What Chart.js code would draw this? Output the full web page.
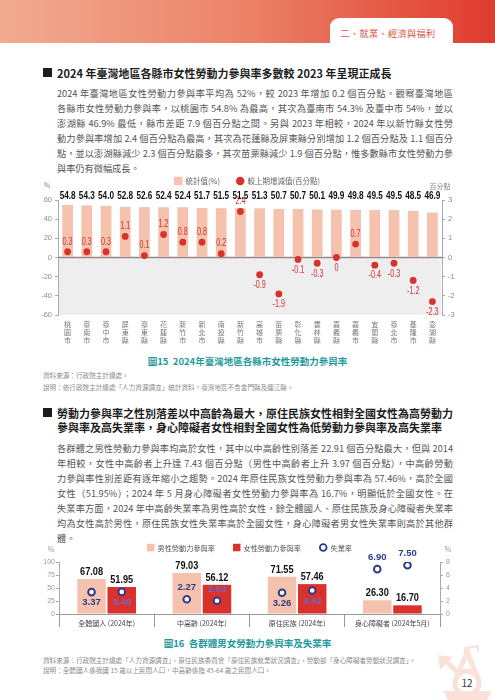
<!DOCTYPE html>
<html lang="zh-Hant">
<head>
<meta charset="utf-8">
<script src="https://cdn.jsdelivr.net/npm/chart.js@4.4.1/dist/chart.umd.min.js"></script>
<style>
  html, body { margin: 0; padding: 0; background: #fff; }
  body { width: 495px; height: 700px; position: relative; overflow: hidden;
         font-family: "Noto Sans CJK TC", "Noto Sans", sans-serif; }
  .abs { position: absolute; }
  .band { left: 0; top: 0; width: 495px; height: 43px;
          background: linear-gradient(90deg, #f1ab91 0%, #eb8268 50%, #df3b2e 100%); }
  .tab { left: 330px; top: 18px; width: 123px; height: 27px; background: #fff; border-radius: 9px 9px 0 0; }
  .tabtxt { left: 330px; top: 27px; width: 116px; text-align: center; font-size: 9.2px; line-height: 13px; color: #d9533f; letter-spacing: 0.3px; }
  .sq { width: 9px; height: 9px; background: #1d1d1d; }
  .h { left: 57px; font-size: 11px; font-weight: 700; line-height: 14px; color: #1d1d1d; white-space: nowrap; }
  .para { left: 57px; width: 396px; font-size: 9.2px; line-height: 15px; color: #555; }
  .para div { text-align: justify; text-align-last: justify; }
  .para div.last { text-align: left; text-align-last: left; }
  .cap { left: 0; width: 495px; text-align: center; font-size: 9.5px; font-weight: 700; color: #1f9a9c; line-height: 12px; }
  .src { left: 43px; font-size: 6.6px; color: #8a8a8a; white-space: nowrap; }
  .page { left: 455px; top: 676px; width: 24px; text-align: center; font-size: 10px; color: #333; line-height: 14px; }
</style>
</head>
<body>
<div class="abs band"></div>
<div class="abs tab"></div>
<div class="abs tabtxt">二、就業、經濟與福利</div>

<div class="abs sq" style="left:43px; top:68px;"></div>
<div class="abs h" style="top:66px;">2024 年臺灣地區各縣市女性勞動力參與率多數較 2023 年呈現正成長</div>

<div class="abs para" style="top:86px;">
  <div>2024 年臺灣地區女性勞動力參與率平均為 52%，較 2023 年增加 0.2 個百分點。觀察臺灣地區</div>
  <div>各縣市女性勞動力參與率，以桃園市 54.8% 為最高，其次為臺南市 54.3% 及臺中市 54%，並以</div>
  <div>澎湖縣 46.9% 最低，縣市差距 7.9 個百分點之間。另與 2023 年相較，2024 年以新竹縣女性勞</div>
  <div>動力參與率增加 2.4 個百分點為最高，其次為花蓮縣及屏東縣分別增加 1.2 個百分點及 1.1 個百分</div>
  <div>點，並以澎湖縣減少 2.3 個百分點最多，其次苗栗縣減少 1.9 個百分點，惟多數縣市女性勞動力參</div>
  <div class="last">與率仍有微幅成長。</div>
</div>

<div class="abs" style="left:30px; top:172px; width:440px; height:176px;">
  <canvas id="cityChart"></canvas>
</div>

<div class="abs cap" style="top:355px;">圖15&nbsp;&nbsp;2024年臺灣地區各縣市女性勞動力參與率</div>
<div class="abs src" style="top:369px; line-height:12.3px;">資料來源：行政院主計總處。<br>說明：依行政院主計總處「人力資源調查」統計資料，臺灣地區不含金門縣及連江縣。</div>

<div class="abs sq" style="left:43px; top:408px;"></div>
<div class="abs h" style="top:406px;">勞動力參與率之性別落差以中高齡為最大，原住民族女性相對全國女性為高勞動力<br>參與率及高失業率，身心障礙者女性相對全國女性為低勞動力參與率及高失業率</div>

<div class="abs para" style="top:441px;">
  <div>各群體之男性勞動力參與率均高於女性，其中以中高齡性別落差 22.91 個百分點最大，但與 2014</div>
  <div>年相較，女性中高齡者上升達 7.43 個百分點（男性中高齡者上升 3.97 個百分點），中高齡勞動</div>
  <div>力參與率性別差距有逐年縮小之趨勢。2024 年原住民族女性勞動力參與率為 57.46%，高於全國</div>
  <div>女性（51.95%）；2024 年 5 月身心障礙者女性勞動力參與率為 16.7%，明顯低於全國女性。在</div>
  <div>失業率方面，2024 年中高齡失業率為男性高於女性，餘全體國人、原住民族及身心障礙者失業率</div>
  <div>均為女性高於男性，原住民族女性失業率高於全國女性，身心障礙者男女性失業率則高於其他群</div>
  <div class="last">體。</div>
</div>

<div class="abs" style="left:30px; top:540px; width:440px; height:95px;">
  <canvas id="groupChart"></canvas>
</div>

<div class="abs cap" style="top:637px;">圖16&nbsp;&nbsp;各群體男女勞動力參與率及失業率</div>
<div class="abs src" style="top:655px; line-height:10px;">資料來源：行政院主計總處「人力資源調查」、原住民族委員會「原住民族就業狀況調查」、勞動部「身心障礙者勞動狀況調查」。<br>說明：全體國人係我國 15 歲以上民間人口，中高齡係指 45-64 歲之民間人口。</div>

<svg class="abs" style="left:430px; top:640px;" width="65" height="60" viewBox="0 0 65 60">
  <g fill="none" stroke="#fbe2d8" stroke-width="5">
    <line x1="29" y1="34" x2="16" y2="21"/>
    <circle cx="37" cy="43" r="12"/>
    <polyline points="27,36 37,12 47,36"/>
  </g>
  <polygon points="8,15 23,17 10,30" fill="#fbe2d8"/>
  <polyline points="37,8 48,6 48,11" fill="none" stroke="#fbe2d8" stroke-width="2"/>
  <circle cx="37" cy="10" r="2.5" fill="none" stroke="#fbe2d8" stroke-width="1.5"/>
  <polygon points="13,51 62,51 57,60 18,60" fill="#fbe2d8"/>
</svg>
<div class="abs page">12</div>

<script>
// 圖15 各縣市
const cityNames = ['桃園市', '臺南市', '臺中市', '屏東縣', '臺東縣', '花蓮縣', '新竹市', '新北市', '南投縣', '新竹縣',
  '高雄市', '苗栗縣', '彰化縣', '雲林縣', '嘉義縣', '嘉義市', '宜蘭縣', '臺北市', '基隆市', '澎湖縣'];
const femaleRate2024 = [54.8, 54.3, 54.0, 52.8, 52.6, 52.4, 52.4, 51.7, 51.5, 51.5,
  51.3, 50.7, 50.7, 50.1, 49.9, 49.8, 49.5, 49.5, 48.5, 46.9];
const changeFrom2023 = [0.3, 0.3, 0.3, 1.1, 0.1, 1.2, 0.8, 0.8, 0.2, 2.4,
  -0.9, -1.9, -0.1, -0.3, 0, 0.7, -0.4, -0.3, -1.2, -2.3];

// 圖16 各群體
const groupNames = ['全體國人 (2024年)', '中高齡 (2024年)', '原住民族 (2024年)', '身心障礙者 (2024年5月)'];
const maleParticipation = [67.08, 79.03, 71.55, 26.30];
const femaleParticipation = [51.95, 56.12, 57.46, 16.70];
const maleUnemployment = [3.37, 2.27, 3.26, 6.90];
const femaleUnemployment = [3.40, 2.03, 3.62, 7.50];
const unemploymentLabelSide = ['below', 'above', 'below', 'above'];

const PEACH = '#f4c2ad';
const RED = '#d9312b';
const NAVY = '#2e3a8c';
const SANS = '"Liberation Sans", Arial, sans-serif';
const CJK = '"Noto Sans CJK TC", sans-serif';

// 細い数字（元図は長体の書体なので横方向に縮める）
function narrowText(ctx, text, x, y, sx) {
  ctx.save();
  ctx.translate(x, y);
  ctx.scale(sx, 1);
  ctx.fillText(text, 0, 0);
  ctx.restore();
}

// 自前の凡例（位置を細かく合わせるため）
function drawLegend(ctx, items, cx, cy, fontSize, gap, color) {
  ctx.save();
  ctx.font = fontSize + 'px ' + CJK;
  ctx.textBaseline = 'middle';
  ctx.textAlign = 'left';
  const widths = items.map(it => it.size + 3 + ctx.measureText(it.text).width);
  const total = widths.reduce((a, b) => a + b, 0) + gap * (items.length - 1);
  let x = cx - total / 2;
  items.forEach((it, i) => {
    if (it.shape === 'circle') {
      ctx.beginPath();
      ctx.arc(x + it.size / 2, cy, it.size / 2 - (it.stroke ? it.stroke / 2 : 0), 0, Math.PI * 2);
      if (it.stroke) {
        ctx.lineWidth = it.stroke;
        ctx.strokeStyle = it.color;
        ctx.fillStyle = '#fff';
        ctx.fill();
        ctx.stroke();
      } else {
        ctx.fillStyle = it.color;
        ctx.fill();
      }
    } else {
      ctx.fillStyle = it.color;
      ctx.fillRect(x, cy - it.size / 2, it.size, it.size);
    }
    ctx.fillStyle = color;
    ctx.fillText(it.text, x + it.size + 3, cy + 0.5);
    x += widths[i] + gap;
  });
  ctx.restore();
}

const cityMarks = {
  id: 'cityMarks',
  beforeDraw(chart) {
    const { ctx, chartArea: a, scales } = chart;
    const y0 = scales.y.getPixelForValue(0);
    ctx.save();
    ctx.fillStyle = '#eeeeee';
    ctx.fillRect(a.left + 1, y0, a.right - a.left - 2, a.bottom - y0);
    ctx.restore();
  },
  beforeDatasetsDraw(chart) {
    const { ctx, chartArea: a, scales } = chart;
    const y0 = scales.y.getPixelForValue(0);
    ctx.save();
    ctx.strokeStyle = '#8c8c8c';
    ctx.lineWidth = 1.5;
    ctx.beginPath();
    ctx.moveTo(a.left, y0);
    ctx.lineTo(a.right, y0);
    ctx.stroke();
    ctx.restore();
  },
  afterDatasetsDraw(chart) {
    const { ctx, chartArea } = chart;
    const bars = chart.getDatasetMeta(0).data;
    const dots = chart.getDatasetMeta(1).data;
    ctx.save();
    ctx.textAlign = 'center';
    ctx.textBaseline = 'middle';
    ctx.font = 'bold 10.5px ' + SANS;
    ctx.fillStyle = '#111';
    bars.forEach((b, i) => narrowText(ctx, femaleRate2024[i].toFixed(1), b.x, chartArea.top - 4, 0.78));
    ctx.font = '10px ' + SANS;
    ctx.fillStyle = RED;
    dots.forEach((p, i) => {
      const v = changeFrom2023[i];
      narrowText(ctx, String(v), p.x, v <= 0 ? p.y + 10.5 : p.y - 10, 0.72);
    });
    ctx.restore();
  },
  afterDraw(chart) {
    const { ctx, chartArea: a } = chart;
    const ds = chart.data.datasets;
    drawLegend(ctx, [
      { text: ds[0].label, color: ds[0].backgroundColor, size: 8.5, shape: 'rect' },
      { text: ds[1].label, color: ds[1].pointBackgroundColor, size: 8.5, shape: 'circle' }
    ], (a.left + a.right) / 2 - 3, a.top - 19, 7.5, 16, '#666');
    ctx.save();
    ctx.font = '7px ' + CJK;
    ctx.fillStyle = '#888';
    ctx.textBaseline = 'middle';
    ctx.textAlign = 'center';
    ctx.fillText('%', a.left - 11, a.top - 15);
    ctx.fillText('百分點', a.right - 2, a.top - 14);
    ctx.restore();
  }
};

new Chart(document.getElementById('cityChart'), {
  type: 'bar',
  data: {
    labels: cityNames,
    datasets: [
      {
        label: '統計值(%)',
        data: femaleRate2024,
        backgroundColor: PEACH,
        yAxisID: 'y',
        barPercentage: 0.56,
        categoryPercentage: 1,
        order: 2
      },
      {
        type: 'line',
        label: '較上期增減值(百分點)',
        data: changeFrom2023,
        yAxisID: 'y1',
        showLine: false,
        pointRadius: 3.4,
        pointBorderWidth: 0,
        pointBackgroundColor: RED,
        backgroundColor: RED,
        borderColor: RED,
        order: 1
      }
    ]
  },
  options: {
    responsive: true,
    maintainAspectRatio: false,
    animation: false,
    layout: { padding: { top: 28, left: 0, right: 0, bottom: 0 } },
    plugins: { legend: { display: false }, tooltip: { enabled: false } },
    scales: {
      x: {
        grid: { display: false, drawTicks: false },
        border: { display: false },
        ticks: {
          autoSkip: false, maxRotation: 0, padding: 6, color: '#777',
          font: { size: 7, family: CJK, lineHeight: 1.08 },
          callback: (v, i) => cityNames[i].split('')
        },
        afterFit: s => { s.height = 33; }
      },
      y: {
        position: 'left', min: -60, max: 60,
        grid: { display: true, drawOnChartArea: false, tickLength: 3, color: '#aaa' },
        border: { color: '#aaa' },
        ticks: { stepSize: 20, padding: 3, color: '#8a8a8a', font: { size: 7.5 } },
        afterFit: s => { s.width = 28; }
      },
      y1: {
        position: 'right', min: -3, max: 3,
        grid: { display: true, drawOnChartArea: false, tickLength: 3, color: '#aaa' },
        border: { color: '#aaa' },
        ticks: { stepSize: 1, padding: 3, color: '#8a8a8a', font: { size: 7.5 } },
        afterFit: s => { s.width = 28; }
      }
    }
  },
  plugins: [cityMarks]
});

const groupMarks = {
  id: 'groupMarks',
  afterDatasetsUpdate(chart) {
    // 失業率の丸を男女それぞれの棒の中心に合わせる
    [[2, 0], [3, 1]].forEach(([lineIdx, barIdx]) => {
      const bars = chart.getDatasetMeta(barIdx).data;
      chart.getDatasetMeta(lineIdx).data.forEach((pt, i) => { pt.x = bars[i].x; });
    });
  },
  afterDatasetsDraw(chart) {
    const { ctx } = chart;
    const maleBars = chart.getDatasetMeta(0).data;
    const femaleBars = chart.getDatasetMeta(1).data;
    ctx.save();
    ctx.textAlign = 'center';
    ctx.textBaseline = 'middle';
    ctx.font = 'bold 11.5px ' + SANS;
    ctx.fillStyle = '#111';
    maleBars.forEach((b, i) => narrowText(ctx, maleParticipation[i].toFixed(2), b.x, b.y - 7, 0.8));
    femaleBars.forEach((b, i) => narrowText(ctx, femaleParticipation[i].toFixed(2), b.x, b.y - 7, 0.8));
    ctx.font = 'bold 9.5px ' + SANS;
    [[2, maleUnemployment, maleBars], [3, femaleUnemployment, femaleBars]].forEach(([idx, vals, bars]) => {
      chart.getDatasetMeta(idx).data.forEach((pt, i) => {
        const y = unemploymentLabelSide[i] === 'above' ? pt.y - 11.5 : pt.y + 10.5;
        const onRed = bars === femaleBars && y > bars[i].y;
        ctx.fillStyle = onRed ? '#7466cc' : NAVY;
        ctx.fillText(vals[i].toFixed(2), pt.x, y);
      });
    });
    ctx.restore();
  },
  afterDraw(chart) {
    const { ctx, chartArea: a } = chart;
    const ds = chart.data.datasets;
    drawLegend(ctx, [
      { text: ds[0].label, color: ds[0].backgroundColor, size: 7.5, shape: 'rect' },
      { text: ds[1].label, color: ds[1].backgroundColor, size: 7.5, shape: 'rect' },
      { text: ds[2].label, color: ds[2].pointBorderColor, size: 8.5, shape: 'circle', stroke: 1.8 }
    ], (a.left + a.right) / 2, a.top - 14.5, 7.2, 18, '#555');
    ctx.save();
    ctx.font = '7px ' + CJK;
    ctx.fillStyle = '#999';
    ctx.textBaseline = 'middle';
    ctx.textAlign = 'center';
    ctx.fillText('%', a.left - 8, a.top - 13);
    ctx.fillText('%', a.right + 8, a.top - 13);
    ctx.restore();
  }
};

const rateDot = {
  type: 'line',
  label: '失業率',
  yAxisID: 'y1',
  showLine: false,
  pointRadius: 3.3,
  pointBorderWidth: 2,
  pointBackgroundColor: '#fff',
  pointBorderColor: NAVY,
  borderColor: NAVY,
  backgroundColor: '#fff',
  order: 1
};

new Chart(document.getElementById('groupChart'), {
  type: 'bar',
  data: {
    labels: groupNames,
    datasets: [
      { label: '男性勞動力參與率', data: maleParticipation, backgroundColor: PEACH, yAxisID: 'y', order: 2 },
      { label: '女性勞動力參與率', data: femaleParticipation, backgroundColor: RED, yAxisID: 'y', order: 2 },
      Object.assign({ data: maleUnemployment }, rateDot),
      Object.assign({ data: femaleUnemployment }, rateDot)
    ]
  },
  options: {
    responsive: true,
    maintainAspectRatio: false,
    animation: false,
    layout: { padding: { top: 22, left: 0, right: 0, bottom: 0 } },
    datasets: { bar: { categoryPercentage: 0.634, barPercentage: 0.944 } },
    plugins: { legend: { display: false }, tooltip: { enabled: false } },
    scales: {
      x: {
        grid: { display: true, drawOnChartArea: false, drawTicks: true, tickLength: 13, color: '#999', offset: true },
        border: { display: true, color: '#999' },
        ticks: { padding: -8, color: '#444', font: { size: 7, family: CJK } },
        afterFit: s => { s.height = 21; }
      },
      y: {
        position: 'left', min: 0, max: 100,
        grid: { display: true, drawOnChartArea: false, tickLength: 3, color: '#aaa' },
        border: { color: '#aaa' },
        ticks: { stepSize: 25, padding: 1, color: '#999', font: { size: 7 } },
        afterFit: s => { s.width = 29; }
      },
      y1: {
        position: 'right', min: 0, max: 8,
        grid: { display: true, drawOnChartArea: false, tickLength: 3, color: '#aaa' },
        border: { color: '#aaa' },
        ticks: { stepSize: 2, padding: 3, color: '#999', font: { size: 7 } },
        afterFit: s => { s.width = 30; }
      }
    }
  },
  plugins: [groupMarks]
});
</script>
</body>
</html>
